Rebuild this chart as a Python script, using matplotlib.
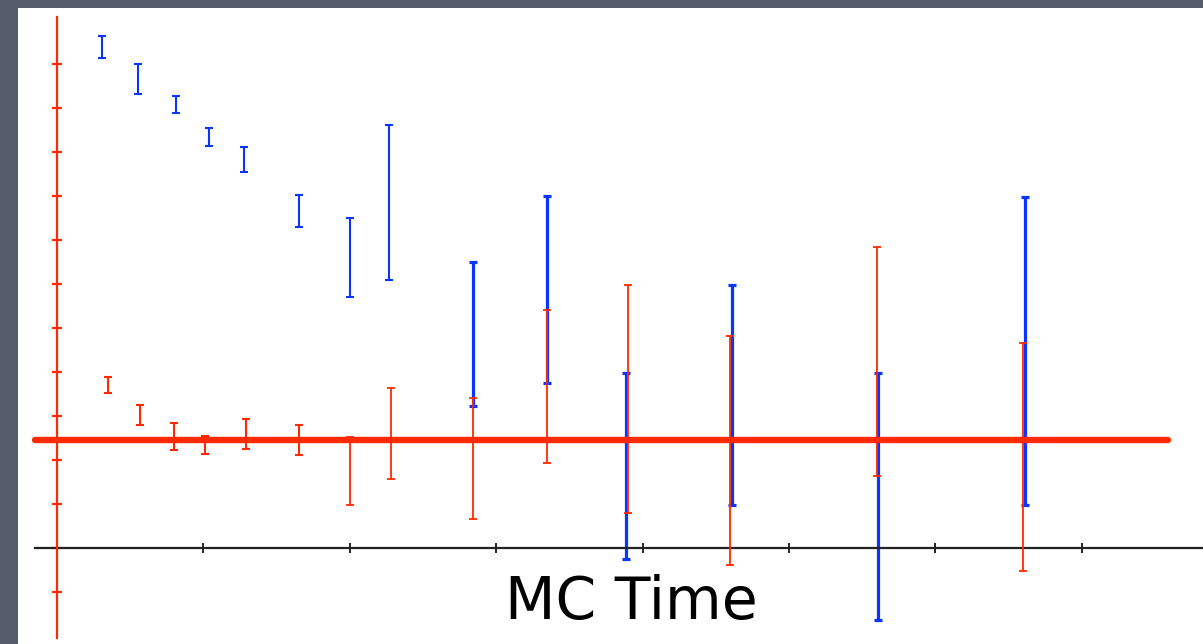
import matplotlib
matplotlib.use("Agg")
import matplotlib.pyplot as plt
import numpy as np

# ---- data (x in tick units, y in tick units) ----
blue_x = [0.31, 0.55, 0.81, 1.04, 1.28, 1.65, 2.00, 2.27, 2.84, 3.35, 3.89, 4.61, 5.61, 6.61]
blue_hi = [11.64, 11.00, 10.27, 9.55, 9.11, 8.02, 7.50, 9.61, 6.50, 8.00, 3.98, 5.98, 3.98, 7.98]
blue_lo = [11.14, 10.32, 9.89, 9.14, 8.55, 7.30, 5.70, 6.09, 3.23, 3.75, -0.25, 0.98, -1.64, 0.98]

red_x = [0.35, 0.57, 0.80, 1.01, 1.29, 1.65, 2.00, 2.28, 2.84, 3.35, 3.90, 4.60, 5.60, 6.60]
red_hi = [3.89, 3.25, 2.84, 2.55, 2.93, 2.80, 2.52, 3.64, 3.41, 5.41, 5.98, 4.82, 6.84, 4.66]
red_lo = [3.52, 2.80, 2.23, 2.14, 2.25, 2.11, 0.98, 1.57, 0.66, 1.93, 0.80, -0.39, 1.64, -0.52]

ref_level = 2.45
ref_span = [-0.15, 7.59]

x_ticks = [0, 1, 2, 3, 4, 5, 6, 7]
y_ticks = list(range(-1, 12))
x_label = "MC Time"

BLUE = "#0a35ff"
RED = "#ff2a00"

W, H = 1203, 644
fig = plt.figure(figsize=(W / 100, H / 100), dpi=100)
fig.patch.set_facecolor("#565c6c")

# axes = white panel
left_px, top_px = 18, 8
ax = fig.add_axes([left_px / W, 0, 1 - left_px / W, 1 - top_px / H])
ax.set_facecolor("white")

px_per_x = 146.4
px_per_y = 44.0
x0_px, y0_px = 57, 548
ax.set_xlim((left_px - x0_px) / px_per_x, (W - x0_px) / px_per_x)
ax.set_ylim((y0_px - H) / px_per_y, (y0_px - top_px) / px_per_y)


def draw(xs, lo, hi, color, lw, cap, z):
    xs = np.asarray(xs)
    lo = np.asarray(lo)
    hi = np.asarray(hi)
    mid = (lo + hi) / 2
    ax.errorbar(xs, mid, yerr=[mid - lo, hi - mid], fmt="none", ecolor=color,
                elinewidth=lw, capsize=cap, capthick=lw, zorder=z)


n_early = 8
draw(blue_x[:n_early], blue_lo[:n_early], blue_hi[:n_early], BLUE, 1.5, 3.2, 2)
draw(blue_x[n_early:], blue_lo[n_early:], blue_hi[n_early:], BLUE, 2.3, 3.2, 2)
draw(red_x[:6], red_lo[:6], red_hi[:6], RED, 1.5, 3.2, 3)
draw(red_x[6:], red_lo[6:], red_hi[6:], RED, 1.3, 3.2, 3)

ax.plot(ref_span, [ref_level, ref_level], color=RED, lw=4.6,
        solid_capstyle="round", zorder=5)

# spines as the axes lines
for s in ("top", "right"):
    ax.spines[s].set_visible(False)
ax.spines["left"].set_position(("data", 0))
ax.spines["left"].set_color(RED)
ax.spines["left"].set_linewidth(1.6)
ax.spines["left"].set_bounds((y0_px - 638) / px_per_y, (y0_px - 17) / px_per_y)
ax.spines["left"].set_zorder(4)
ax.spines["bottom"].set_position(("data", 0))
ax.spines["bottom"].set_color("#222222")
ax.spines["bottom"].set_linewidth(1.6)
ax.spines["bottom"].set_bounds((35 - x0_px) / px_per_x, (W - x0_px) / px_per_x)

ax.set_xticks(x_ticks)
ax.set_yticks(y_ticks)
ax.set_xticklabels([])
ax.set_yticklabels([])
ax.tick_params(axis="y", direction="inout", length=7, width=1.6, color=RED)
ax.tick_params(axis="x", direction="inout", length=7, width=1.4, color="#222222")

ax.text((631 - x0_px) / px_per_x, (y0_px - 619) / px_per_y, x_label,
        ha="center", va="baseline", fontsize=42, family="DejaVu Sans",
        color="black")

fig.savefig("out.png", dpi=100, facecolor=fig.get_facecolor())
